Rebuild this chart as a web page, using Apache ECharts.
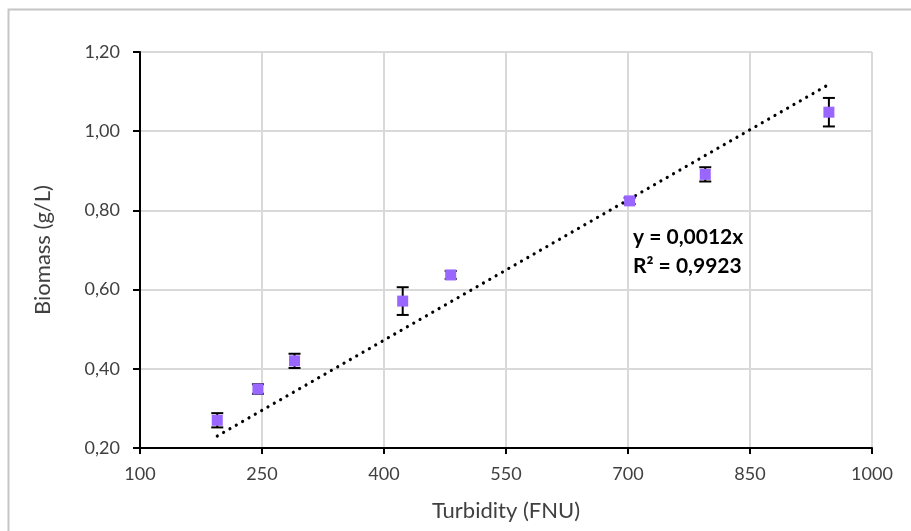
<!DOCTYPE html>
<html>
<head>
<meta charset="utf-8">
<title>Biomass vs Turbidity</title>
<script src="https://cdn.jsdelivr.net/npm/echarts@6/dist/echarts.min.js"></script>
<style>
  html, body { margin: 0; padding: 0; background: #ffffff; }
  #chart { width: 911px; height: 531px; }
</style>
</head>
<body>
<div id="chart"></div>
<script>
// Calibration samples: turbidity (FNU) against measured biomass (g/L)
const turbidity = [195, 245, 290, 423, 482, 702, 795, 947];
const biomass = [0.270, 0.349, 0.420, 0.571, 0.637, 0.824, 0.891, 1.048];
const biomassErr = [0.018, 0.012, 0.018, 0.035, 0.010, 0.008, 0.018, 0.036];

// Axis tick values
const xTicks = [100, 250, 400, 550, 700, 850, 1000];
const yTicks = [0.20, 0.40, 0.60, 0.80, 1.00, 1.20];

// Coefficient of determination reported for the fit
const rSquaredText = '0,9923';

// Least-squares line through the origin: slope = Σxy / Σx²
let sxy = 0, sxx = 0;
for (let i = 0; i < turbidity.length; i++) {
  sxy += turbidity[i] * biomass[i];
  sxx += turbidity[i] * turbidity[i];
}
const slope = sxy / sxx;
const xMin = Math.min(...turbidity);
const xMax = Math.max(...turbidity);
const trendData = [[xMin, slope * xMin], [xMax, slope * xMax]];

const points = turbidity.map((x, i) => [x, biomass[i]]);
const errData = turbidity.map((x, i) => [x, biomass[i] - biomassErr[i], biomass[i] + biomassErr[i]]);

const comma = (s) => String(s).replace('.', ',');
const FONT = 'Lato, "Open Sans", sans-serif';

const chart = echarts.init(document.getElementById('chart'), null, { renderer: 'canvas' });

chart.setOption({
  animation: false,
  backgroundColor: '#ffffff',
  grid: { left: 140, right: 39, top: 52, bottom: 83, containLabel: false },
  xAxis: {
    type: 'value',
    min: 100,
    max: 1000,
    name: 'Turbidity (FNU)',
    nameLocation: 'middle',
    nameGap: 52,
    nameTextStyle: { fontFamily: FONT, fontSize: 22, color: '#404040' },
    axisLine: { show: true, onZero: false, lineStyle: { color: '#000000', width: 2 } },
    axisTick: { show: true, inside: false, length: 6, customValues: xTicks, lineStyle: { color: '#000000', width: 2 } },
    axisLabel: {
      customValues: xTicks,
      margin: 17,
      fontFamily: FONT, fontSize: 18, color: '#404040',
      formatter: (v) => String(v)
    },
    splitLine: { show: true, lineStyle: { color: '#d9d9d9', width: 2 } }
  },
  yAxis: {
    type: 'value',
    min: 0.2,
    max: 1.2,
    name: 'Biomass (g/L)',
    nameLocation: 'middle',
    nameGap: 86,
    nameRotate: 90,
    nameTextStyle: { fontFamily: FONT, fontSize: 22, color: '#404040' },
    axisLine: { show: true, onZero: false, lineStyle: { color: '#000000', width: 2 } },
    axisTick: { show: true, inside: false, length: 7, customValues: yTicks, lineStyle: { color: '#000000', width: 2 } },
    axisLabel: {
      customValues: yTicks,
      margin: 20,
      fontFamily: FONT, fontSize: 18, color: '#404040',
      formatter: (v) => comma(Number(v).toFixed(2))
    },
    splitLine: { show: true, lineStyle: { color: '#d9d9d9', width: 2 } }
  },
  series: [
    {
      name: 'Linear fit',
      type: 'line',
      data: trendData,
      symbol: 'none',
      silent: true,
      z: 3,
      lineStyle: { color: '#000000', width: 3.2, type: [0.01, 7.3], cap: 'round' }
    },
    {
      name: 'Error',
      type: 'custom',
      data: errData,
      z: 4,
      renderItem: function (params, api) {
        const x = api.value(0);
        const lo = api.coord([x, api.value(1)]);
        const hi = api.coord([x, api.value(2)]);
        const hw = 6;
        const style = { stroke: '#000000', lineWidth: 2, fill: null };
        return {
          type: 'group',
          children: [
            { type: 'line', shape: { x1: lo[0], y1: lo[1], x2: hi[0], y2: hi[1] }, style: style },
            { type: 'line', shape: { x1: hi[0] - hw, y1: hi[1], x2: hi[0] + hw, y2: hi[1] }, style: style },
            { type: 'line', shape: { x1: lo[0] - hw, y1: lo[1], x2: lo[0] + hw, y2: lo[1] }, style: style }
          ]
        };
      }
    },
    {
      name: 'Biomass',
      type: 'scatter',
      data: points,
      symbol: 'rect',
      symbolSize: 11,
      z: 5,
      itemStyle: { color: '#9966ff', opacity: 1 }
    }
  ],
  graphic: [
    {
      type: 'rect',
      silent: true,
      z: 100,
      shape: { x: 8.5, y: 9.5, width: 1000, height: 1000 },
      style: { fill: null, stroke: '#c6c6c6', lineWidth: 2 }
    },
    {
      type: 'text',
      x: 633, y: 237,
      z: 100,
      style: {
        text: 'y = ' + comma(slope.toFixed(4)) + 'x',
        fontFamily: FONT, fontSize: 21, fontWeight: 'bold', fill: '#000000',
        textVerticalAlign: 'middle', textAlign: 'left'
      }
    },
    {
      type: 'text',
      x: 633, y: 266,
      z: 100,
      style: {
        text: 'R² = ' + rSquaredText,
        fontFamily: FONT, fontSize: 21, fontWeight: 'bold', fill: '#000000',
        textVerticalAlign: 'middle', textAlign: 'left'
      }
    }
  ]
});
</script>
</body>
</html>
